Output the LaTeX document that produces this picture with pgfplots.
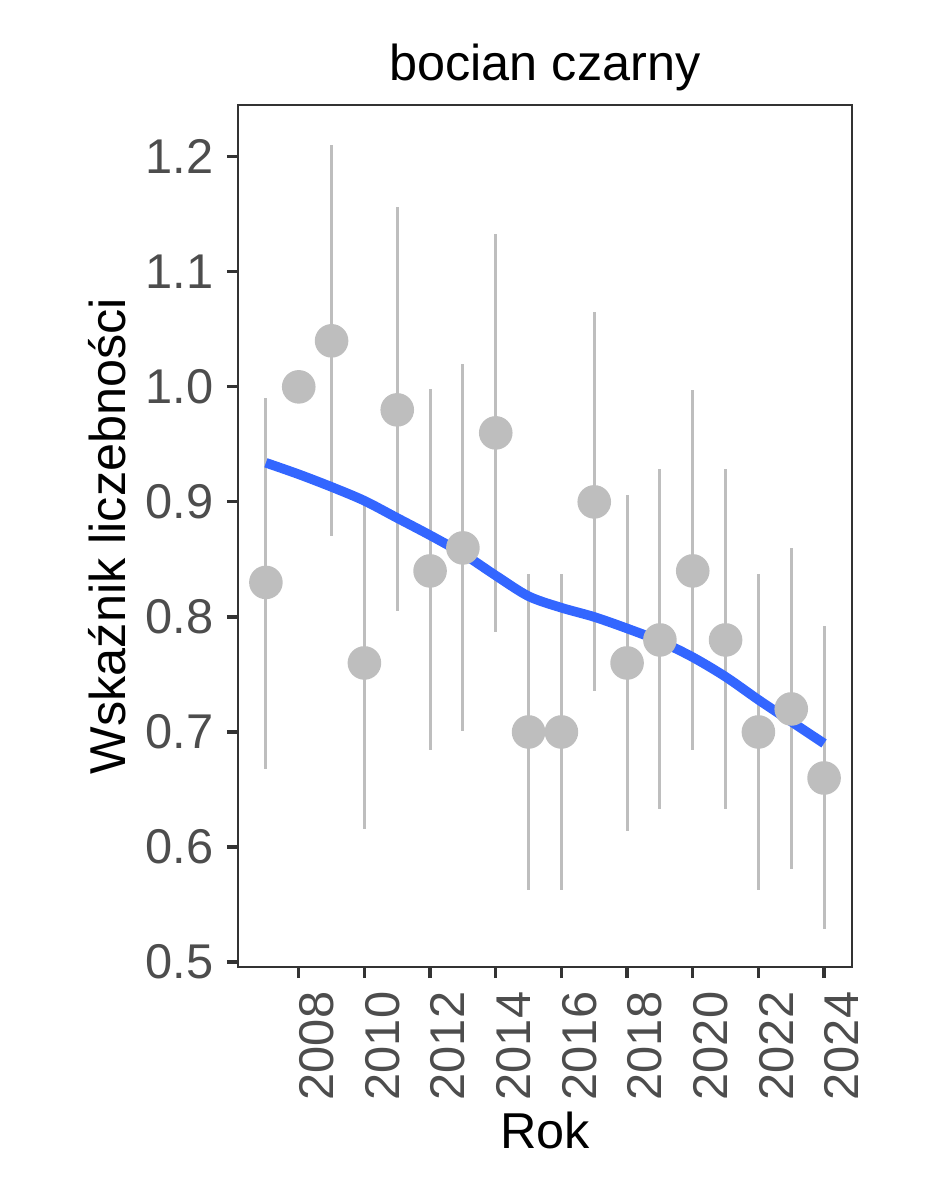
\documentclass[border=0pt]{standalone}
\usepackage{fontspec}
\setmainfont{Liberation Sans}
\usepackage{pgfplots}
\usepackage{pgfplotstable}
\pgfplotsset{compat=1.18}

\definecolor{ptgray}{HTML}{BEBEBE}
\definecolor{loessblue}{HTML}{3366FF}
\definecolor{ticktext}{HTML}{4D4D4D}
\definecolor{frame}{HTML}{333333}

% year, index, lower and upper limit
\pgfplotstableread{
year val lo hi
2007 0.83 0.668 0.990
2008 1.00 1.000 1.000
2009 1.04 0.870 1.210
2010 0.76 0.616 0.905
2011 0.98 0.805 1.156
2012 0.84 0.684 0.998
2013 0.86 0.701 1.020
2014 0.96 0.787 1.133
2015 0.70 0.563 0.837
2016 0.70 0.563 0.837
2017 0.90 0.736 1.065
2018 0.76 0.614 0.906
2019 0.78 0.633 0.929
2020 0.84 0.684 0.997
2021 0.78 0.633 0.929
2022 0.70 0.563 0.837
2023 0.72 0.581 0.860
2024 0.66 0.529 0.792
}\indeks

% smoothed trend
\pgfplotstableread{
year fit
2007 0.934
2008 0.924
2009 0.913
2010 0.901
2011 0.886
2012 0.871
2013 0.855
2014 0.836
2015 0.818
2016 0.808
2017 0.800
2018 0.790
2019 0.779
2020 0.765
2021 0.748
2022 0.728
2023 0.709
2024 0.690
}\trend

\begin{document}
\begin{tikzpicture}
\begin{axis}[
    at={(0pt,0pt)}, anchor=south west,
    scale only axis,
    width=153.5pt, height=215.5pt,
    xmin=2006.15, xmax=2024.85,
    ymin=0.4957, ymax=1.245,
    axis line style={draw=frame, line width=0.55pt},
    tick pos=left,
    tick align=outside,
    major tick length=2.75pt,
    every tick/.style={draw=frame, line width=0.8pt},
    xtick={2008,2010,2012,2014,2016,2018,2020,2022,2024},
    ytick={0.5,0.6,0.7,0.8,0.9,1.0,1.1,1.2},
    yticklabels={0.5,0.6,0.7,0.8,0.9,1.0,1.1,1.2},
    /pgf/number format/assume math mode=true,
    /pgf/number format/set thousands separator={},
    ticklabel style={font=\fontsize{12.2}{14}\selectfont, text=ticktext, inner sep=0pt},
    yticklabel style={anchor=east, xshift=-3.25pt},
    xticklabel style={rotate=90, anchor=north east, xshift=-3.25pt},
    title={bocian czarny},
    title style={at={(axis description cs:0.5,1)}, anchor=base, yshift=0.25pt,
        inner sep=0pt, font=\fontsize{12.6}{15}\selectfont},
    xlabel={Rok},
    xlabel style={at={(axis description cs:0.5,0)}, anchor=base, yshift=-45.25pt,
        inner sep=0pt, font=\fontsize{12.6}{15}\selectfont},
    ylabel={Wskaźnik liczebności},
    ylabel style={at={(axis description cs:-0.184,0.5)}, anchor=base,
        inner sep=0pt, font=\fontsize{12.6}{15}\selectfont},
    clip=false,
]
% confidence intervals
\addplot[draw=none, mark=none, forget plot,
    error bars/.cd, y dir=both, y explicit, error mark=none,
    error bar style={draw=ptgray, line width=0.75pt, solid}]
  table[x=year, y=val,
        y error plus expr=\thisrow{hi}-\thisrow{val},
        y error minus expr=\thisrow{val}-\thisrow{lo}] {\indeks};
% yearly index
\addplot[only marks, mark=*, mark size=4pt, draw=ptgray, fill=ptgray]
  table[x=year, y=val] {\indeks};
% trend line
\addplot[loessblue, line width=2.4pt, smooth, mark=none]
  table[x=year, y=fit] {\trend};
\end{axis}
\pgfresetboundingbox
\path (-59.5pt,-53.5pt) rectangle (176.5pt,241.75pt);
\end{tikzpicture}
\end{document}
